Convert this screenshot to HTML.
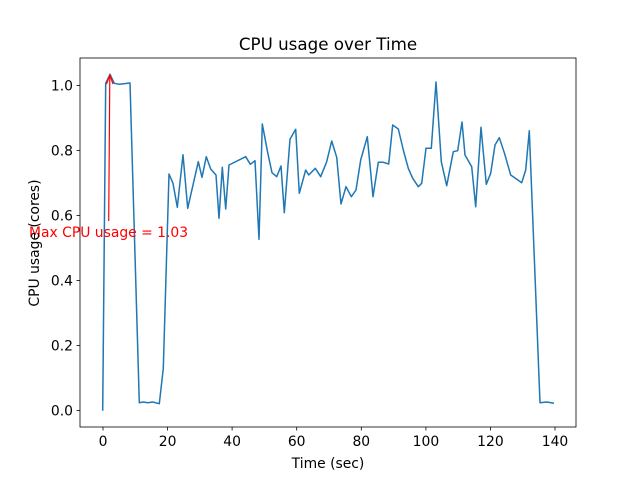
<!DOCTYPE html>
<html><head><meta charset="utf-8"><style>body{margin:0;background:#fff}</style></head><body>
<svg width="640" height="480" xmlns="http://www.w3.org/2000/svg" font-family="DejaVu Sans, Liberation Sans, sans-serif">
<rect width="640" height="480" fill="#fff"/>
<text x="328" y="50" font-size="16.7" text-anchor="middle">CPU usage over Time</text>
<polyline fill="none" stroke="#1f77b4" stroke-width="1.5" stroke-linejoin="round" points="102.7,410.7 105.7,83.3 110,74.3 114.3,83.3 119.3,84.3 130,83 139.3,402.7 143.3,402 147.7,402.7 152.7,402 159.3,403.7 163.3,368.3 169,174 173,183.3 177.3,207.3 183,154.7 187.7,208.3 198.3,161.7 202,177.3 206.3,156.7 210.7,169 216,175 219,218.3 222.3,167.3 225.7,209 229,165 245.7,156.7 250.3,164.3 255,160.7 259,239.3 262.3,124 267.7,152.7 272,172.7 276.7,176.7 281,166 284.3,212.7 290,139.3 295.7,129.3 299.3,193.3 305.7,170 308.7,175 315.3,168.3 320.7,176.7 326.7,161.7 331.7,141 336.7,157.3 341,204 346,186.7 351.3,196.7 356,190 360.7,160 367.3,136.7 373,196.7 378.3,162.3 383.3,162.3 388.7,164 392.7,125 398.3,129 403.3,150 408.3,168.3 412.7,178.3 418.3,186.7 421.7,183.3 426,148.3 431.3,148.3 436,82 441.3,161.7 446.7,185.7 453.3,151.7 457.7,150.7 462,122 465,155 471.7,166.7 475.7,206.7 481,127.3 486.3,184.3 490.7,173.3 495,145 499.3,137.7 504.3,152.7 510.7,175 521.7,182.7 525.7,170 529.3,130.7 540,402.7 546.7,402 554,403.3"/>
<line x1="108.7" y1="221" x2="109.8" y2="76" stroke="red" stroke-width="1.2"/>
<polyline points="106.5,84 109.9,75 113,84" fill="none" stroke="red" stroke-width="1.2"/>
<text x="29" y="237" font-size="13.9" fill="red">Max CPU usage = 1.03</text>
<rect x="80" y="58" width="496" height="369" fill="none" stroke="#000" stroke-width="0.8"/>
<g stroke="#000" stroke-width="0.8">
<line x1="103" y1="427" x2="103" y2="430.5"/><line x1="167.6" y1="427" x2="167.6" y2="430.5"/><line x1="232.1" y1="427" x2="232.1" y2="430.5"/><line x1="296.7" y1="427" x2="296.7" y2="430.5"/><line x1="361.3" y1="427" x2="361.3" y2="430.5"/><line x1="425.9" y1="427" x2="425.9" y2="430.5"/><line x1="490.4" y1="427" x2="490.4" y2="430.5"/><line x1="555" y1="427" x2="555" y2="430.5"/>
<line x1="76.5" y1="410.5" x2="80" y2="410.5"/><line x1="76.5" y1="345.5" x2="80" y2="345.5"/><line x1="76.5" y1="280.5" x2="80" y2="280.5"/><line x1="76.5" y1="215.5" x2="80" y2="215.5"/><line x1="76.5" y1="150.5" x2="80" y2="150.5"/><line x1="76.5" y1="85.5" x2="80" y2="85.5"/>
</g>
<g font-size="13.9" text-anchor="middle">
<text x="103" y="446">0</text><text x="167.6" y="446">20</text><text x="232.1" y="446">40</text><text x="296.7" y="446">60</text><text x="361.3" y="446">80</text><text x="425.9" y="446">100</text><text x="490.4" y="446">120</text><text x="555" y="446">140</text>
</g>
<g font-size="13.9" text-anchor="end">
<text x="73" y="415.5">0.0</text><text x="73" y="350.5">0.2</text><text x="73" y="285.5">0.4</text><text x="73" y="220.5">0.6</text><text x="73" y="155.5">0.8</text><text x="73" y="90.5">1.0</text>
</g>
<text x="328" y="468" font-size="13.9" text-anchor="middle">Time (sec)</text>
<text transform="translate(39,243) rotate(-90)" font-size="13.9" text-anchor="middle">CPU usage (cores)</text>
</svg>
</body></html>
